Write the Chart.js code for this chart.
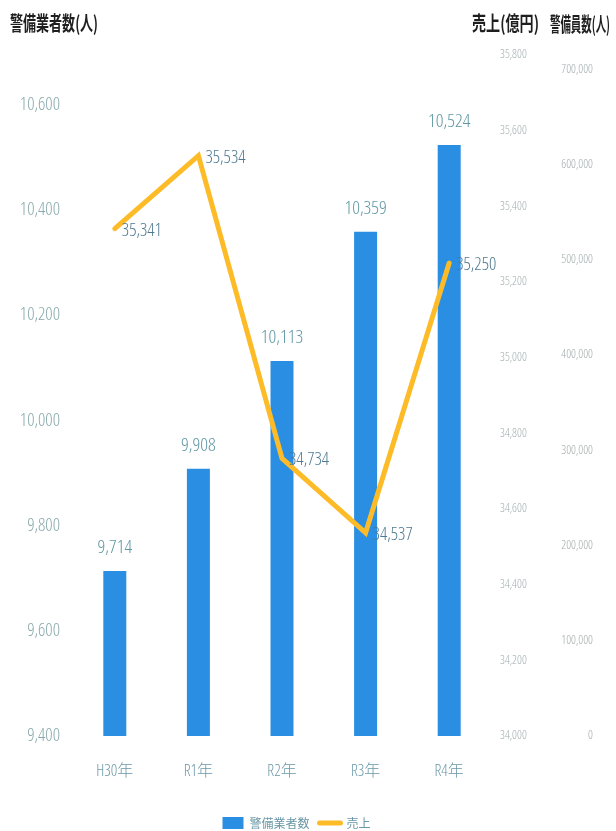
<!DOCTYPE html>
<html>
<head>
<meta charset="utf-8">
<script src="https://cdn.jsdelivr.net/npm/chart.js@4/dist/chart.umd.min.js"></script>
<style>
html,body{margin:0;padding:0;background:#fff;}
#wrap{width:616px;height:831px;position:relative;overflow:hidden;}
</style>
</head>
<body>
<div id="wrap"><canvas id="c" width="616" height="831"></canvas></div>
<script>
// ---- data ----
const categories = ['H30年', 'R1年', 'R2年', 'R3年', 'R4年'];
const companyCounts = [9714, 9908, 10113, 10359, 10524];   // 警備業者数(人)
const sales = [35341, 35534, 34734, 34537, 35250];          // 売上(億円)
const seriesNames = ['警備業者数', '売上'];
const axisTitles = ['警備業者数(人)', '売上(億円)', '警備員数(人)'];
const leftTicks = [9400, 9600, 9800, 10000, 10200, 10400, 10600];
const salesTicks = [34000, 34200, 34400, 34600, 34800, 35000, 35200, 35400, 35600, 35800];
const guardTicks = [0, 100000, 200000, 300000, 400000, 500000, 600000, 700000];

const FAM = "'Open Sans', 'Noto Sans CJK JP', sans-serif";
const CJK = "'Noto Sans CJK JP', sans-serif";
const NARROW_W = '300 condensed';
const fmt = v => v.toLocaleString('en-US');

const labelPlugin = {
  id: 'labels',
  afterDatasetsDraw(chart) {
    const ctx = chart.ctx;
    const barMeta = chart.getDatasetMeta(0);
    const lineMeta = chart.getDatasetMeta(1);
    ctx.save();
    ctx.font = NARROW_W + ' 19px ' + FAM;
    ctx.fillStyle = '#5f98a4';
    ctx.textAlign = 'center';
    ctx.textBaseline = 'bottom';
    barMeta.data.forEach((el, i) => {
      ctx.fillText(fmt(companyCounts[i]), el.x, el.y - 14);
    });
    ctx.font = NARROW_W + ' 18px ' + FAM;
    ctx.fillStyle = '#4e7990';
    ctx.textAlign = 'left';
    ctx.textBaseline = 'middle';
    lineMeta.data.forEach((el, i) => {
      ctx.fillText(fmt(sales[i]), el.x + 7, el.y + 2);
    });
    ctx.restore();
  },
  afterDraw(chart) {
    const ctx = chart.ctx;
    const s = chart.scales;
    ctx.save();
    ctx.fillStyle = '#1e1e1e';
    ctx.textBaseline = 'middle';
    ctx.textAlign = 'left';
    const drawT = (t, x, y, size, w) => {
      ctx.save();
      ctx.font = 'bold ' + size + 'px ' + CJK;
      const sx = w / ctx.measureText(t).width;
      ctx.translate(x, y);
      ctx.scale(sx, 1);
      ctx.fillText(t, 0, 0);
      ctx.restore();
    };
    drawT(axisTitles[0], s.y.left + 10, 23, 20, 88);
    drawT(axisTitles[1], s.y1.left - 19, 23, 20, 67);
    drawT(axisTitles[2], s.y2.left + 3, 24, 20, 60);
    ctx.restore();
  }
};

new Chart(document.getElementById('c'), {
  data: {
    labels: categories,
    datasets: [
      {
        type: 'bar',
        label: seriesNames[0],
        data: companyCounts,
        backgroundColor: '#2a8ee3',
        borderWidth: 0,
        yAxisID: 'y',
        order: 2,
        barPercentage: 1,
        categoryPercentage: 0.275
      },
      {
        type: 'line',
        label: seriesNames[1],
        data: sales,
        borderColor: '#fdbb27',
        backgroundColor: '#fdbb27',
        borderWidth: 5,
        borderCapStyle: 'round',
        pointRadius: 0,
        tension: 0,
        yAxisID: 'y1',
        order: 1
      }
    ]
  },
  options: {
    responsive: false,
    animation: false,
    devicePixelRatio: 1,
    layout: { padding: { top: 55, bottom: -8, left: 0, right: 23 } },
    plugins: {
      tooltip: { enabled: false },
      legend: {
        position: 'bottom',
        labels: {
          usePointStyle: true,
          pointStyleWidth: 21,
          boxHeight: 12,
          padding: 10,
          color: '#6a98a6',
          font: { size: 12, family: CJK },
          generateLabels(chart) {
            const items = Chart.defaults.plugins.legend.labels.generateLabels(chart);
            items.sort((a, b) => a.datasetIndex - b.datasetIndex);
            items.forEach(it => {
              if (it.datasetIndex === 0) { it.pointStyle = 'rect'; it.lineWidth = 0; }
              else { it.pointStyle = 'line'; it.lineWidth = 5; it.strokeStyle = '#fdbb27'; it.lineCap = 'round'; }
            });
            return items;
          }
        }
      }
    },
    scales: {
      x: {
        type: 'category',
        grid: { display: false, drawTicks: false },
        border: { display: false },
        ticks: { color: '#6a98a6', font: { size: 16, family: FAM, weight: NARROW_W }, padding: 26 },
        afterFit(sc) { sc.height = 71; }
      },
      y: {
        position: 'left',
        min: leftTicks[0],
        max: 10695,
        grid: { display: false, drawTicks: false },
        border: { display: false },
        afterBuildTicks(sc) { sc.ticks = leftTicks.map(v => ({ value: v })); },
        ticks: { color: '#89a9ac', font: { size: 18, family: FAM, weight: NARROW_W }, padding: 13, callback: v => fmt(v) },
        afterFit(sc) { sc.width = 73; }
      },
      y1: {
        position: 'right',
        weight: 0,
        min: salesTicks[0],
        max: salesTicks[salesTicks.length - 1],
        grid: { display: false, drawTicks: false },
        border: { display: false },
        afterBuildTicks(sc) { sc.ticks = salesTicks.map(v => ({ value: v })); },
        ticks: { color: '#a3afb0', font: { size: 12, family: FAM, weight: NARROW_W }, padding: 9, callback: v => fmt(v) },
        afterFit(sc) { sc.width = 56; }
      },
      y2: {
        position: 'right',
        weight: 1,
        min: 0,
        max: 715000,
        grid: { display: false, drawTicks: false },
        border: { display: false },
        afterBuildTicks(sc) { sc.ticks = guardTicks.map(v => ({ value: v })); },
        ticks: { color: '#a3abab', font: { size: 12, family: FAM, weight: NARROW_W }, padding: 10, crossAlign: 'far', callback: v => fmt(v) },
        afterFit(sc) { sc.width = 46; }
      }
    }
  },
  plugins: [labelPlugin]
});
</script>
</body>
</html>
